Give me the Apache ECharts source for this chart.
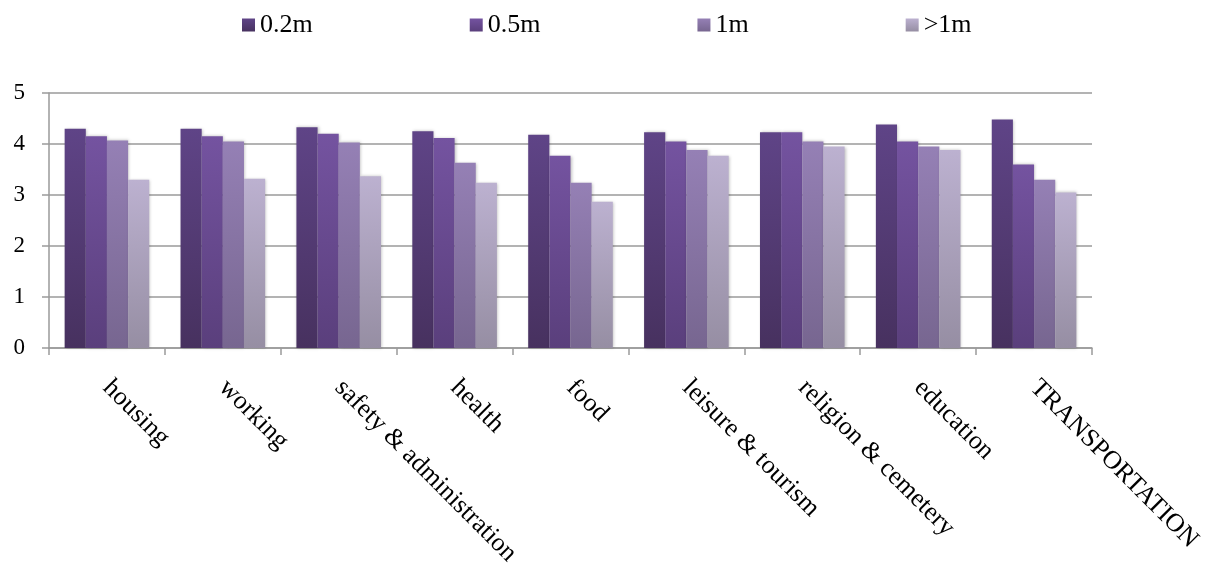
<!DOCTYPE html>
<html>
<head>
<meta charset="utf-8">
<script src="https://cdn.jsdelivr.net/npm/echarts@6/dist/echarts.min.js"></script>
<style>html,body{margin:0;padding:0;background:#fff;}#c{width:1215px;height:569px;}</style>
</head>
<body>
<div id="c"></div>
<script>
const categories = ['housing','working','safety & administration','health','food','leisure & tourism','religion & cemetery','education','TRANSPORTATION'];
const seriesNames = ['0.2m','0.5m','1m','>1m'];
const v02 = [4.30, 4.30, 4.33, 4.25, 4.18, 4.23, 4.23, 4.38, 4.48];
const v05 = [4.15, 4.15, 4.20, 4.12, 3.77, 4.05, 4.23, 4.05, 3.60];
const v1  = [4.07, 4.05, 4.03, 3.63, 3.24, 3.88, 4.05, 3.95, 3.30];
const vgt1 = [3.30, 3.32, 3.37, 3.24, 2.87, 3.77, 3.95, 3.88, 3.05];
const yTicks = [0, 1, 2, 3, 4, 5];

const values = [v02, v05, v1, vgt1];
const topColors = ['#5f4487', '#7453a0', '#9580b5', '#bcb1d0'];
const botColors = ['#47315f', '#5a3f7c', '#776690', '#968ea3'];
const font = 'Liberation Serif, Times New Roman, serif';

const chart = echarts.init(document.getElementById('c'));
chart.setOption({
  animation: false,
  legend: {
    top: 7,
    left: 237,
    itemGap: 157,
    itemWidth: 13,
    itemHeight: 13,
    icon: 'rect',
    textStyle: { fontFamily: font, fontSize: 26, color: '#000', padding: [0, 0, 0, 0] },
    data: seriesNames
  },
  grid: { left: 49, right: 123, top: 93, bottom: 221, containLabel: false },
  xAxis: {
    type: 'category',
    data: categories,
    axisLine: { lineStyle: { color: '#9a9a9a', width: 1.5 } },
    axisTick: { show: true, length: 7, lineStyle: { color: '#9a9a9a', width: 1.5 } },
    axisLabel: { rotate: -45, margin: 36, fontFamily: font, fontSize: 26, color: '#000', interval: 0 }
  },
  yAxis: {
    type: 'value',
    min: yTicks[0],
    max: yTicks[yTicks.length - 1],
    interval: 1,
    axisLine: { show: true, lineStyle: { color: '#9a9a9a', width: 1.5 } },
    axisTick: { show: true, length: 7, lineStyle: { color: '#9a9a9a', width: 1.5 } },
    axisLabel: { margin: 24, fontFamily: font, fontSize: 23, color: '#000' },
    splitLine: { lineStyle: { color: '#9a9a9a', width: 1.5 } }
  },
  series: seriesNames.map((name, i) => ({
    name: name,
    type: 'bar',
    data: values[i],
    barGap: '0%',
    barCategoryGap: '27%',
    itemStyle: {
      color: { type: 'linear', x: 0, y: 0, x2: 0, y2: 1, colorStops: [
        { offset: 0, color: topColors[i] }, { offset: 1, color: botColors[i] } ] },
      shadowBlur: 3,
      shadowColor: 'rgba(0,0,0,0.25)',
      shadowOffsetX: 1,
      shadowOffsetY: 0
    }
  }))
});
</script>
</body>
</html>
